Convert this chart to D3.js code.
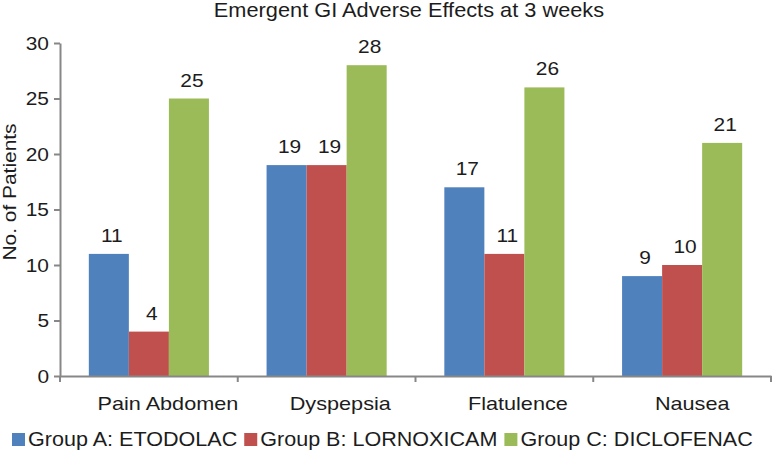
<!DOCTYPE html>
<html><head><meta charset="utf-8">
<script src="https://cdn.jsdelivr.net/npm/d3@7"></script>
<style>
body{margin:0;background:#fff;}
text{font-family:"Liberation Sans",Arial,sans-serif;fill:#1c1c1c;}
</style></head>
<body><svg id="c" width="772" height="451"></svg>
<script>
const title = "Emergent GI Adverse Effects at 3 weeks";
const yLabel = "No. of Patients";
const categories = ["Pain Abdomen","Dyspepsia","Flatulence","Nausea"];
const seriesNames = ["Group A: ETODOLAC","Group B: LORNOXICAM","Group C: DICLOFENAC"];
const groupA = [11,19,17,9];
const groupB = [4,19,11,10];
const groupC = [25,28,26,21];
const colors = ["#4F81BD","#C0504D","#9BBB59"];
const yTicks = [0,5,10,15,20,25,30];

const series = [groupA, groupB, groupC];
const svg = d3.select("#c");
const W = 772, H = 451;
const m = {left:60, right:1, top:43, bottom:75};
const fs = 19, stretch = 1.1;

const x0 = d3.scaleBand().domain(categories).range([m.left, W - m.right]).paddingInner(0).paddingOuter(0);
const x1 = d3.scaleBand().domain(d3.range(series.length)).range([0, x0.bandwidth()]).paddingInner(0).paddingOuter(0.72);
const y = d3.scaleLinear().domain([0,30]).range([H - m.bottom, m.top]);

function stretchText(sel, k){
  sel.each(function(){
    const L = this.getComputedTextLength();
    d3.select(this).attr("textLength", L * k).attr("lengthAdjust","spacingAndGlyphs");
  });
}

// bars
const g = svg.append("g");
categories.forEach((c, ci) => {
  series.forEach((s, si) => {
    g.append("rect")
      .attr("x", x0(c) + x1(si))
      .attr("y", y(s[ci]))
      .attr("width", x1.bandwidth())
      .attr("height", y(0) - y(s[ci]))
      .attr("fill", colors[si]);
    g.append("text").attr("class","st")
      .attr("x", x0(c) + x1(si) + x1.bandwidth()/2 + 3)
      .attr("y", y(s[ci]) - 12)
      .attr("text-anchor","middle")
      .attr("font-size", fs)
      .text(s[ci]);
  });
});

// y axis
const ya = svg.append("g").attr("transform",`translate(${m.left},0)`)
  .call(d3.axisLeft(y).tickValues(yTicks).tickSize(6).tickPadding(5).tickSizeOuter(0));
ya.select(".domain").attr("stroke","#878787").attr("stroke-width",2);
ya.selectAll(".tick line").attr("stroke","#878787").attr("stroke-width",2);
ya.selectAll(".tick text").attr("class","st").attr("font-size",fs).attr("fill","#1c1c1c").attr("font-family",null);

// x axis
const xa = svg.append("g").attr("transform",`translate(0,${y(0)})`)
  .call(d3.axisBottom(x0).tickSize(0).tickPadding(21).tickSizeOuter(0));
xa.select(".domain").attr("stroke","#878787").attr("stroke-width",2);
const xt = xa.selectAll(".tick text").attr("font-size",fs).attr("fill","#1c1c1c").attr("font-family",null);
xt.each(function(){
  const L = this.getComputedTextLength() * 1.14;
  d3.select(this).attr("textLength", L).attr("lengthAdjust","spacingAndGlyphs").attr("dx", 0.135 * L);
});
const bounds = categories.map(c => x0(c)).concat([x0(categories[categories.length-1]) + x0.bandwidth()]);
xa.selectAll(".bt").data(bounds).enter().append("line")
  .attr("x1", d => d).attr("x2", d => d).attr("y1", 0).attr("y2", 6)
  .attr("stroke","#878787").attr("stroke-width",2);

// title
svg.append("text").attr("class","st")
  .attr("x", 409).attr("y", 17).attr("text-anchor","middle")
  .attr("font-size", 19.8).text(title);

// y label
svg.append("text").attr("class","st")
  .attr("transform","translate(16,192) rotate(-90)")
  .attr("text-anchor","middle").attr("font-size", fs).text(yLabel);

stretchText(svg.selectAll("text.st"), stretch);

// legend
const lg = svg.append("g");
let lx = 12;
seriesNames.forEach((n, i) => {
  lg.append("rect").attr("x", lx).attr("y", 433).attr("width", 13).attr("height", 13).attr("fill", colors[i]);
  const t = lg.append("text").attr("x", lx + 16).attr("y", 446)
    .attr("font-size", 19.6).text(n);
  const w = t.node().getComputedTextLength() * stretch;
  t.attr("textLength", w).attr("lengthAdjust","spacingAndGlyphs");
  lx += 16 + w + 7;
});
</script></body></html>
